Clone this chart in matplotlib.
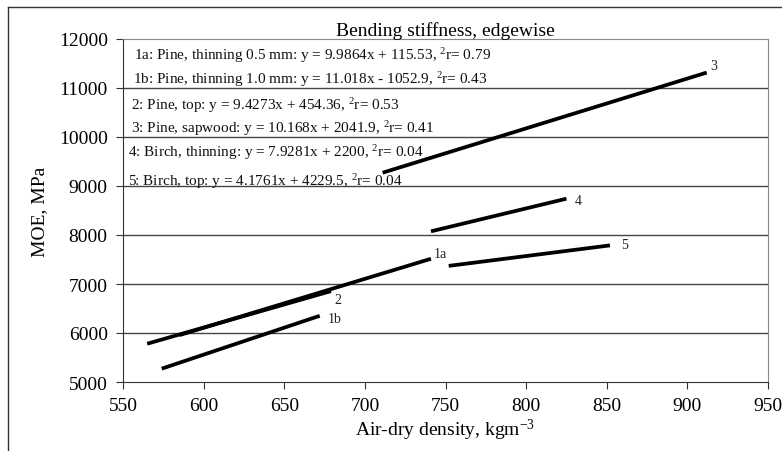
import matplotlib
matplotlib.use("Agg")
import matplotlib.pyplot as plt

plt.rcParams['font.family'] = ['Liberation Serif', 'DejaVu Serif']
plt.rcParams['mathtext.fontset'] = 'custom'
plt.rcParams['mathtext.rm'] = 'Liberation Serif'
plt.rcParams['mathtext.it'] = 'Liberation Serif'

# trend line end points
series_ids = ['1a', '1b', '2', '3', '4', '5']
x_start = [585, 574, 565, 711, 741, 752]
x_end = [741, 672, 679, 912, 825, 852]
y_start = [5957, 5272, 5781, 9271, 8075, 7370]
y_end = [7515, 6351, 6855, 11315, 8741, 7788]

# where the series number sits
label_x = [743, 677, 681, 914, 830, 859]
label_y = [7630, 6290, 6680, 11450, 8710, 7810]

# equation legend
equations = [
    '1a: Pine, thinning 0.5 mm: y = 9.9864x + 115.53, ${}^{2}$r= 0.79',
    '1b: Pine, thinning 1.0 mm: y = 11.018x - 1052.9, ${}^{2}$r= 0.43',
    '2: Pine, top: y = 9.4273x + 454.36, ${}^{2}$r= 0.53',
    '3: Pine, sapwood: y = 10.168x + 2041.9, ${}^{2}$r= 0.41',
    '4: Birch, thinning: y = 7.9281x + 2200, ${}^{2}$r= 0.04',
    '5: Birch, top: y = 4.1761x + 4229.5, ${}^{2}$r= 0.04',
]
eq_px = [134, 133, 131, 131, 128, 128]
eq_py = [56, 80, 106, 129, 153, 182]

x_ticks = [550, 600, 650, 700, 750, 800, 850, 900, 950]
y_ticks = [5000, 6000, 7000, 8000, 9000, 10000, 11000, 12000]

W, H = 782, 452
fig = plt.figure(figsize=(W / 100, H / 100), dpi=100)
ax = fig.add_axes([123 / W, 1 - 383 / H, (768 - 123) / W, (383 - 40) / H])

# outer frame (only top and left visible)
fig.add_artist(plt.Line2D([8 / W, 8 / W], [0, 1 - 8 / H], transform=fig.transFigure,
                          color='#333333', lw=1))
fig.add_artist(plt.Line2D([8 / W, 1], [1 - 8 / H, 1 - 8 / H], transform=fig.transFigure,
                          color='#333333', lw=1))

for yt in y_ticks[1:-1]:
    ax.axhline(yt, color='#444444', lw=1, zorder=1)

for i in range(len(series_ids)):
    ax.plot([x_start[i], x_end[i]], [y_start[i], y_end[i]], color='black', lw=2.7,
            solid_capstyle='butt', zorder=3)
    ax.text(label_x[i], label_y[i], series_ids[i], fontsize=10, va='center', ha='left',
            color='#222222')

for txt, px, py in zip(equations, eq_px, eq_py):
    fig.text(px / W, 1 - py / H, txt, fontsize=11, va='center', ha='left', color='#111111')

ax.set_xlim(550, 950)
ax.set_ylim(5000, 12000)
ax.set_xticks(x_ticks)
ax.set_yticks(y_ticks)
ax.tick_params(direction='out', length=5, labelsize=14, color='#333333', pad=6)

for side in ['left', 'bottom']:
    ax.spines[side].set_color('#333333')
for side in ['top', 'right']:
    ax.spines[side].set_color('#888888')

ax.set_title('Bending stiffness, edgewise', fontsize=14, pad=2)
ax.set_xlabel('Air-dry density, kgm$^{-3}$', fontsize=14, labelpad=2)
ax.set_ylabel('MOE, MPa', fontsize=14, labelpad=8)

fig.savefig('out.png', dpi=100)
